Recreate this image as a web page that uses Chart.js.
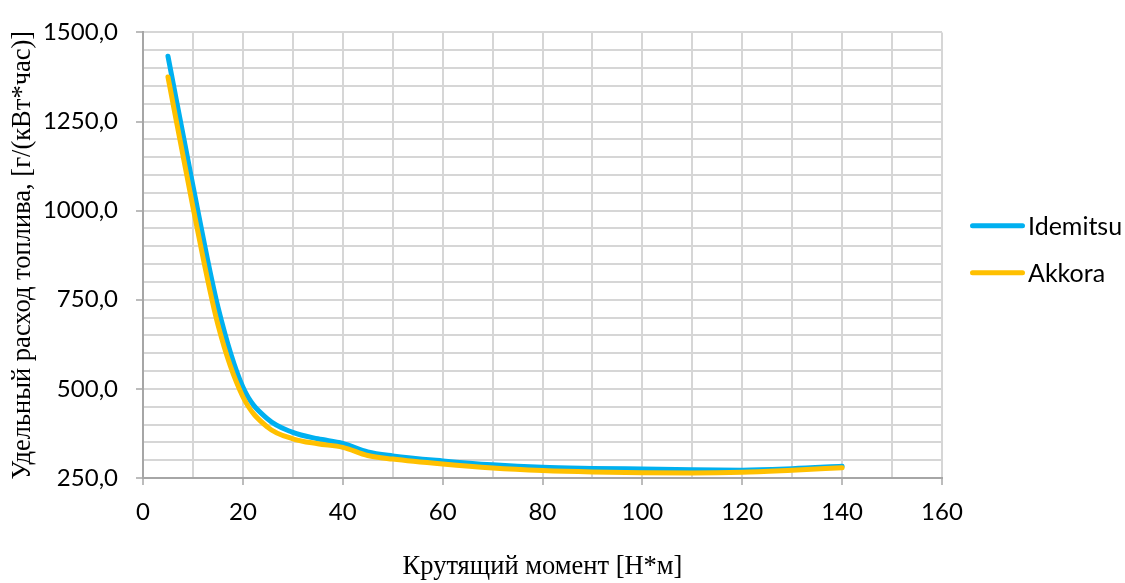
<!DOCTYPE html>
<html>
<head>
<meta charset="utf-8">
<script src="https://cdn.jsdelivr.net/npm/chart.js@4.4.0/dist/chart.umd.min.js"></script>
<style>
    html, body { margin: 0; padding: 0; background: #fff; }
</style>
</head>
<body>
<canvas id="fuelChart" width="1125" height="583"></canvas>
<script>
// Torque [N*m]
const torque = [5, 10, 15, 20, 25, 30, 35, 40, 45, 50, 60, 70, 80, 90, 100, 110, 120, 130, 140];
// Specific fuel consumption [g/(kW*h)]
const idemitsu = [1433, 1070, 730, 505, 415, 378, 360, 347, 323, 312, 298, 287, 280, 277, 275, 273, 272, 276, 283];
const akkora   = [1375, 1010, 680, 478, 392, 360, 346, 336, 313, 303, 289, 278, 271, 267, 265, 264, 266, 272, 279];

const seriesNames = ['Idemitsu', 'Akkora'];
const seriesColors = ['#00B0F0', '#FFC000'];

const xMajor = [0, 20, 40, 60, 80, 100, 120, 140, 160];
const xTickLabels = ['0', '20', '40', '60', '80', '100', '120', '140', '160'];
const yMajor = [250, 500, 750, 1000, 1250, 1500];
const yTickLabels = ['250,0', '500,0', '750,0', '1000,0', '1250,0', '1500,0'];

const tickFont = { family: 'Lato, "Open Sans", sans-serif', size: 24 };
const legendFont = { family: 'Lato, "Open Sans", sans-serif', size: 25 };
const titleFont = { family: '"Liberation Serif", "Times New Roman", serif', size: 26.5 };

// Legend to the right of the plot, Excel style (line sample + name)
const sideLegend = {
    id: 'sideLegend',
    afterDraw(chart) {
        const ctx = chart.ctx;
        const area = chart.chartArea;
        const mid = (area.top + area.bottom) / 2;
        const gap = 47;
        ctx.save();
        ctx.font = `${legendFont.size}px ${legendFont.family}`;
        ctx.textBaseline = 'middle';
        ctx.textAlign = 'left';
        chart.data.datasets.forEach((ds, i) => {
            const y = mid - gap / 2 + i * gap - 6;
            ctx.strokeStyle = ds.borderColor;
            ctx.lineWidth = ds.borderWidth;
            ctx.lineCap = 'round';
            ctx.beginPath();
            ctx.moveTo(area.right + 30.5, y);
            ctx.lineTo(area.right + 80.5, y);
            ctx.stroke();
            ctx.fillStyle = '#000';
            ctx.fillText(ds.label, area.right + 86, y + 1);
        });
        ctx.restore();
    }
};

const majorTickColor = (major) => (ctx) =>
    ctx.tick && major.includes(ctx.tick.value) ? '#a6a6a6' : 'rgba(0,0,0,0)';

new Chart(document.getElementById('fuelChart'), {
    type: 'line',
    data: {
        datasets: [
            {
                label: seriesNames[0],
                data: torque.map((t, i) => ({ x: t, y: idemitsu[i] })),
                borderColor: seriesColors[0],
                borderWidth: 5,
                order: 1
            },
            {
                label: seriesNames[1],
                data: torque.map((t, i) => ({ x: t, y: akkora[i] })),
                borderColor: seriesColors[1],
                borderWidth: 5,
                order: 0
            }
        ]
    },
    options: {
        responsive: false,
        animation: false,
        layout: { padding: { top: 24, right: 183, bottom: 0, left: 0 } },
        elements: {
            point: { radius: 0 },
            line: { cubicInterpolationMode: 'monotone', borderCapStyle: 'round', borderJoinStyle: 'round' }
        },
        plugins: {
            legend: { display: false },
            tooltip: { enabled: false }
        },
        scales: {
            x: {
                type: 'linear',
                min: 0,
                max: 160,
                afterFit: scale => { scale.height = 105; },
                ticks: {
                    stepSize: 10,
                    autoSkip: false,
                    maxRotation: 0,
                    padding: 13,
                    color: '#000',
                    font: tickFont,
                    callback: v => {
                        const i = xMajor.indexOf(v);
                        return i >= 0 ? xTickLabels[i] : '';
                    }
                },
                grid: {
                    color: '#d6d6d6',
                    lineWidth: 2,
                    tickLength: 7,
                    tickColor: majorTickColor(xMajor),
                    tickWidth: 1.5
                },
                border: { color: '#a6a6a6', width: 2 },
                title: {
                    display: true,
                    text: 'Крутящий момент [Н*м]',
                    color: '#000',
                    font: titleFont,
                    padding: { top: 0, bottom: 0 }
                }
            },
            y: {
                min: 250,
                max: 1500,
                afterFit: scale => { scale.width = 143; },
                ticks: {
                    stepSize: 50,
                    autoSkip: false,
                    padding: 18,
                    color: '#000',
                    font: tickFont,
                    callback: v => {
                        const i = yMajor.indexOf(v);
                        return i >= 0 ? yTickLabels[i] : '';
                    }
                },
                grid: {
                    color: '#d6d6d6',
                    lineWidth: 2,
                    tickLength: 7,
                    tickColor: majorTickColor(yMajor),
                    tickWidth: 1.5
                },
                border: { color: '#a6a6a6', width: 2 },
                title: {
                    display: true,
                    text: 'Удельный расход топлива, [г/(кВт*час)]',
                    color: '#000',
                    font: titleFont,
                    padding: { top: 7, bottom: 0 }
                }
            }
        }
    },
    plugins: [sideLegend]
});
</script>
</body>
</html>
